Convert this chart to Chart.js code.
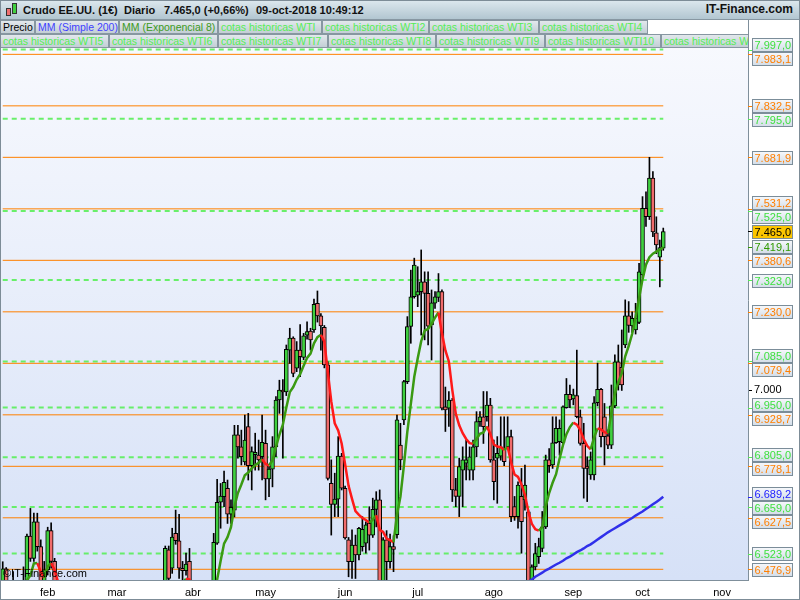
<!DOCTYPE html>
<html><head><meta charset="utf-8">
<script src="https://cdn.jsdelivr.net/npm/chart.js@4.4.1/dist/chart.umd.min.js"></script>
<style>
html,body{margin:0;padding:0;background:#fff;}
#wrap{position:relative;width:800px;height:600px;overflow:hidden;font-family:"Liberation Sans",Arial,sans-serif;}
#c{position:absolute;left:0;top:0;}
#titlebar{position:absolute;left:0;top:0;width:800px;height:20px;background:linear-gradient(#dde8ee,#b2c6d1);box-sizing:border-box;border-bottom:1px solid #8797a2;}
.tt{position:absolute;top:3px;font-size:11px;font-weight:bold;color:#111;white-space:nowrap;line-height:14px;}
.row{position:absolute;left:0;width:748px;height:14px;overflow:hidden;background:#fff;}
.lb{position:absolute;top:0;height:14px;box-sizing:border-box;border:1px solid #8797a1;background:linear-gradient(#e2e8ec,#c3ced5);font-size:10.5px;line-height:12px;padding-left:2px;white-space:nowrap;overflow:hidden;}
#frame{position:absolute;left:0;top:0;width:800px;height:600px;box-sizing:border-box;border:1px solid #7d8c97;pointer-events:none;}
.ic{position:absolute;box-sizing:border-box;border:1px solid #333;}
</style></head>
<body><div id="wrap">
<canvas id="c" width="800" height="600"></canvas>
<div id="titlebar">
  <div class="ic" style="left:6px;top:8px;width:5px;height:8px;background:#f07070;"></div>
  <div class="ic" style="left:12px;top:3px;width:5px;height:11px;background:#40d040;"></div>
  <div class="tt" style="left:23px;">Crudo EE.UU. (1€)</div>
  <div class="tt" style="left:124px;">Diario</div>
  <div class="tt" style="left:164px;">7.465,0 (+0,66%)</div>
  <div class="tt" style="left:256px;">09-oct-2018 10:49:12</div>
  <div class="tt" style="right:7px;font-size:12px;top:2px;">IT-Finance.com</div>
</div>
<div class="row" id="row1" style="top:20px;"></div>
<div class="row" id="row2" style="top:34px;"></div>
<div id="frame"></div>
</div>
<script>
// ---------- data ----------
const firstDay = '2018-01-15';
const lastSlot = '2018-11-12';
const monthNames = ['ene','feb','mar','abr','may','jun','jul','ago','sep','oct','nov','dic'];

const opens = [
6440,6478,6370,6400,6390,6360,6400,6440,6574,6509,
6616,6543,6430,6475,6590,6500,6400,6330,6180,6120,
5920,5930,5920,6060,6130,6170,6190,6180,6160,6270,
6350,6390,6300,6160,6090,6120,6250,6260,6110,6010,
6200,6130,6070,6090,6110,6230,6200,6340,6534,6480,
6582,6560,6480,6473,6500,6420,6270,6320,6330,6350,
6200,6345,6553,6673,6689,6714,6638,6650,6870,6835,
6791,6894,6780,6812,6811,6806,6845,6741,6770,6835,
6972,7001,6996,7118,7153,7065,7118,7097,7162,7174,
7177,7255,7218,7185,7075,6728,6667,6682,6808,6714,
6563,6499,6548,6519,6543,6553,6611,6577,6652,6680,
6440,6563,6499,6543,6578,6840,6914,7026,7187,7274,
7279,7289,7318,7284,7192,7255,7272,7289,6952,6948,
6972,6709,6690,6767,6787,6767,6767,6835,6909,6923,
6923,6957,6797,6802,6808,6831,6835,6865,6660,6631,
6690,6680,6645,6440,6484,6514,6538,6601,6797,6782,
6847,6850,6847,6950,6989,6975,6985,6923,6845,6777,
6753,6753,6964,7003,6923,6867,6840,6955,7084,7068,
7133,7218,7189,7177,7199,7338,7533,7508,7621,7461,
7390,7416];
const highs = [
6499,6482,6420,6470,6440,6420,6484,6580,6655,6641,
6641,6563,6500,6600,6613,6509,6420,6380,6220,6150,
6010,5980,6070,6150,6190,6220,6250,6210,6280,6360,
6420,6410,6320,6190,6140,6260,6300,6280,6130,6220,
6230,6170,6120,6150,6240,6270,6350,6545,6545,6597,
6650,6638,6500,6524,6538,6440,6340,6360,6380,6380,
6360,6582,6740,6728,6764,6738,6680,6898,6898,6884,
6928,6933,6835,6875,6855,6928,6884,6777,6865,6982,
7030,7032,7133,7182,7157,7143,7193,7167,7201,7182,
7267,7291,7225,7190,7084,6797,6758,6865,6816,6720,
6570,6592,6577,6600,6631,6616,6660,6685,6704,6709,
6570,6590,6580,6575,6928,6904,7030,7216,7352,7387,
7362,7411,7347,7347,7294,7289,7342,7294,7010,6997,
6977,6743,6802,6835,6855,6835,6855,6938,6938,6997,
6997,6977,6855,6865,6923,6923,6923,6884,6690,6733,
6772,6782,6650,6490,6553,6568,6646,6811,6830,6923,
6923,6914,6955,7035,7016,7004,7118,6943,6904,6806,
6820,6982,7080,7006,6962,6885,7016,7104,7133,7177,
7265,7260,7230,7255,7372,7567,7581,7682,7640,7508,
7440,7475];
const lows = [
6400,6340,6330,6360,6330,6320,6380,6420,6500,6500,
6530,6400,6390,6460,6480,6380,6260,6170,6100,5880,
5870,5810,5870,6020,6080,6130,6120,6080,6140,6250,
6300,6290,6150,6020,6000,6100,6200,6080,5990,6000,
6110,6040,6010,6060,6100,6140,6190,6330,6420,6465,
6550,6450,6440,6460,6420,6240,6250,6180,6300,6170,
6180,6330,6550,6597,6660,6611,6611,6630,6802,6782,
6782,6738,6709,6767,6767,6738,6680,6689,6718,6806,
6933,6802,6985,7079,7040,7055,7040,7090,7150,7118,
7170,7200,7118,7066,6738,6577,6631,6631,6709,6565,
6455,6450,6450,6504,6530,6524,6533,6570,6601,6420,
6400,6430,6480,6470,6568,6768,6900,7020,7138,7270,
7245,7162,7148,7133,7089,7240,7260,6943,6880,6895,
6675,6660,6631,6660,6738,6738,6738,6806,6895,6845,
6910,6790,6680,6670,6796,6780,6830,6616,6620,6597,
6524,6650,6400,6400,6475,6494,6528,6596,6760,6772,
6845,6811,6840,6948,6950,6958,6920,6840,6685,6675,
6740,6738,6955,6835,6782,6830,6830,6950,7001,7000,
7125,7170,7170,7165,7195,7330,7480,7500,7450,7400,
7303,7410];
const closes = [
6478,6370,6400,6390,6360,6400,6440,6574,6509,6616,
6543,6430,6475,6590,6500,6400,6330,6180,6120,5920,
5930,5920,6060,6130,6170,6190,6180,6160,6270,6350,
6390,6300,6160,6090,6120,6250,6260,6110,6010,6200,
6130,6070,6090,6110,6230,6200,6340,6538,6450,6571,
6561,6480,6473,6492,6440,6270,6320,6330,6350,6200,
6340,6556,6673,6691,6731,6638,6658,6870,6835,6806,
6855,6780,6821,6819,6797,6848,6741,6770,6835,6972,
7001,6996,7120,7153,7050,7118,7099,7160,7172,7148,
7252,7218,7189,7075,6743,6667,6682,6808,6714,6569,
6499,6548,6519,6597,6594,6607,6577,6652,6680,6440,
6563,6499,6543,6535,6914,6797,7026,7187,7274,7367,
7289,7318,7284,7188,7256,7274,7289,6948,6943,6972,
6709,6690,6777,6797,6797,6806,6835,6909,6923,6894,
6957,6797,6733,6816,6835,6792,6865,6631,6631,6723,
6616,6723,6430,6484,6523,6543,6601,6797,6780,6847,
6889,6889,6952,6989,6972,6987,6923,6845,6772,6772,
6797,6964,7003,6865,6865,6840,6955,7084,7016,7016,
7218,7190,7211,7212,7347,7533,7508,7621,7464,7426,
7418,7465];
const ema8 = [
6400,6405,6405,6403,6398,6399,6408,6445,6459,6494,
6495,6470,6452,6485,6495,6475,6440,6385,6327,6237,
6169,6114,6101,6107,6121,6136,6146,6149,6176,6215,
6254,6264,6241,6207,6187,6201,6214,6191,6151,6162,
6155,6136,6126,6122,6146,6158,6199,6274,6313,6370,
6412,6427,6437,6449,6447,6408,6388,6375,6369,6332,
6334,6383,6447,6501,6552,6571,6600,6660,6700,6725,
6752,6760,6772,6782,6788,6799,6785,6781,6795,6835,
6870,6900,6950,6995,7010,7032,7048,7072,7095,7108,
7138,7156,7163,7143,7054,6968,6904,6883,6845,6784,
6721,6683,6647,6636,6627,6621,6613,6622,6635,6592,
6586,6567,6562,6556,6636,6690,6780,6880,6960,7040,
7094,7144,7175,7180,7195,7213,7228,7167,7117,7085,
7001,6932,6898,6875,6858,6846,6844,6858,6873,6877,
6895,6873,6842,6836,6834,6826,6835,6790,6754,6747,
6725,6695,6645,6610,6594,6590,6600,6660,6700,6730,
6755,6800,6840,6872,6893,6906,6900,6884,6858,6838,
6828,6862,6889,6886,6878,6875,6935,6990,7025,7050,
7100,7130,7165,7215,7270,7325,7368,7390,7400,7406,
7412,7419.1];
const smaStart = '2018-07-30';
const sma200 = [
6340,6349,6357,6366,6374,6381,6390,6398,6405,6414,
6422,6430,6440,6447,6455,6461,6467,6474,6479,6485,
6491,6496,6502,6509,6514,6520,6527,6532,6538,6545,
6550,6557,6564,6571,6578,6585,6591,6597,6603,6609,
6615,6621,6627,6634,6640,6646,6653,6660,6667,6674,
6681,6689.2];
const greenLevels = [7997.0, 7795.0, 7525.0, 7323.0, 7085.0, 6950.0, 6805.0, 6659.0, 6523.0];
const orangeLevels = [7983.1, 7832.5, 7681.9, 7531.2, 7380.6, 7230.0, 7079.4, 6928.7, 6778.1, 6627.5, 6476.9];
const yTickValues = [7000];
const legendRow1 = [['Precio',0,35,'#000'],['MM (Simple 200)',35,84,'#3f3fff'],['MM (Exponencial 8)',119,99,'#3c9a1c'],
 ['cotas historicas WTI',218,104,'#55ee55'],['cotas historicas WTI2',322,107,'#55ee55'],['cotas historicas WTI3',429,110,'#55ee55'],['cotas historicas WTI4',539,109,'#55ee55']];
const legendRow2 = [['cotas historicas WTI5',0,109,'#55ee55'],['cotas historicas WTI6',109,109,'#55ee55'],['cotas historicas WTI7',218,110,'#55ee55'],
 ['cotas historicas WTI8',328,108,'#55ee55'],['cotas historicas WTI9',436,109,'#55ee55'],['cotas historicas WTI10',545,116,'#55ee55'],['cotas historicas WTI11',661,110,'#55ee55']];

// ---------- legend DOM ----------
function buildRow(id, items){
  const row = document.getElementById(id);
  items.forEach(([t,l,w,col])=>{
    const d=document.createElement('div'); d.className='lb';
    d.style.left=l+'px'; d.style.width=w+'px'; d.style.color=col; d.textContent=t; row.appendChild(d);
  });
}
buildRow('row1', legendRow1); buildRow('row2', legendRow2);

// ---------- helpers ----------
function weekdays(start, end){
  const out=[]; let d=new Date(start+'T00:00:00Z'); const e=new Date(end+'T00:00:00Z');
  while(d<=e){ const w=d.getUTCDay(); if(w!==0 && w!==6) out.push(d.toISOString().slice(0,10)); d=new Date(d.getTime()+86400000); }
  return out;
}
function fmt(v){ const s=v.toFixed(1).split('.'); return s[0].replace(/\B(?=(\d{3})+(?!\d))/g,'.')+','+s[1]; }
const FONT = '"Liberation Sans", Arial, sans-serif';

const labels = weekdays(firstDay, lastSlot);
const n = closes.length;
function isMonthStart(i){ return i>0 && labels[i].slice(5,7)!==labels[i-1].slice(5,7); }
const smaOffset = labels.indexOf(smaStart);
const smaData = labels.slice(0,n).map((d,i)=> i>=smaOffset ? sma200[i-smaOffset] : null);
const wickData = labels.slice(0,n).map((d,i)=>[lows[i], highs[i]]);
const bodyData = labels.slice(0,n).map((d,i)=>[opens[i], closes[i]]);
const bodyColors = labels.slice(0,n).map((d,i)=> closes[i]>=opens[i] ? '#3fd03f' : '#f06c6c');

const datasets = [];
greenLevels.forEach(v=>datasets.push({type:'line', data:[{x:labels[0],y:v},{x:labels[n-1],y:v}], borderColor:'rgba(90,238,90,0.9)', borderWidth:2, borderDash:[5,4], pointRadius:0, order:10}));
orangeLevels.forEach(v=>datasets.push({type:'line', data:[{x:labels[0],y:v},{x:labels[n-1],y:v}], borderColor:'#ff8000', borderWidth:1, pointRadius:0, order:9}));
datasets.push({type:'bar', data:wickData, backgroundColor:'#000', borderWidth:0, barThickness:1, grouped:false, order:6});
datasets.push({type:'bar', data:bodyData, backgroundColor:bodyColors, borderColor:'#000', borderWidth:1, borderSkipped:false, barThickness:4, grouped:false, order:5});
datasets.push({type:'line', data:smaData, borderColor:'#3030ea', borderWidth:2.5, pointRadius:0, spanGaps:false, order:2});
datasets.push({type:'line', data:ema8, borderWidth:2.5, pointRadius:0, order:1,
  segment:{borderColor: c => c.p1.parsed.y < c.p0.parsed.y ? '#ff1a1a' : '#3a9a12'}});

const bgPlugin = {
  id:'bg',
  beforeDraw(chart){
    const {ctx, chartArea:a} = chart;
    ctx.save(); ctx.fillStyle='#fff'; ctx.fillRect(0,0,chart.width,chart.height);
    const g=ctx.createLinearGradient(0,a.top,0,a.bottom); g.addColorStop(0,'#f9fafe'); g.addColorStop(1,'#d6e1f7');
    ctx.fillStyle=g; ctx.fillRect(a.left,a.top,a.right-a.left,a.bottom-a.top); ctx.restore();
  },
  afterDatasetsDraw(chart){
    const {ctx, chartArea:a} = chart;
    ctx.save(); ctx.fillStyle='#000'; ctx.font='11px '+FONT; ctx.textBaseline='middle'; ctx.textAlign='left';
    ctx.fillText('©IT-Finance.com', a.left+2, a.bottom-6); ctx.restore();
  }
};

const boxPlugin = {
  id:'boxes',
  afterDraw(chart){
    const ys = chart.scales.y, ctx = chart.ctx, a = chart.chartArea;
    const items = [];
    greenLevels.forEach(v=>items.push({v, col:'#3fe03f', tick:'#55ee55'}));
    orangeLevels.forEach(v=>items.push({v, col:'#ff7f00', tick:'#ff7f00'}));
    items.push({v:ema8[n-1], col:'#2f9a00', tick:'#2f9a00'});
    items.push({v:sma200[sma200.length-1], col:'#2020ff', tick:'#2020ff'});
    items.push({v:closes[n-1], col:'#000', tick:'#000', price:true});
    items.forEach(it=>it.y=ys.getPixelForValue(it.v));
    items.sort((p,q)=>p.y-q.y);
    const h=14;
    let groups = items.map(it=>({m:[it], top:it.y-h/2}));
    let changed=true;
    while(changed){
      changed=false;
      for(let k=0;k<groups.length-1;k++){
        const A=groups[k], B=groups[k+1];
        if(A.top+A.m.length*h > B.top+0.01){
          const m=A.m.concat(B.m); const mean=m.reduce((s,x)=>s+x.y,0)/m.length;
          groups.splice(k,2,{m, top:mean-m.length*h/2}); changed=true; break;
        }
      }
    }
    groups.forEach(G=>G.m.forEach((it,j)=>it.cy=G.top+j*h+h/2));
    ctx.save();
    ctx.lineWidth=1;
    items.forEach(it=>{ ctx.strokeStyle=it.tick; ctx.beginPath(); const yy=Math.round(it.y)+0.5; ctx.moveTo(a.right,yy); ctx.lineTo(a.right+5,yy); ctx.stroke(); });
    const order = items.filter(i=>!i.price).concat(items.filter(i=>i.price));
    ctx.font='11px '+FONT; ctx.textBaseline='middle'; ctx.textAlign='left';
    order.forEach(it=>{
      const top=Math.round(it.cy-6.5)+0.5, left=a.right+4.5, w=40, hh=13;
      if(it.price){ ctx.fillStyle='#fcc500'; }
      else { const g=ctx.createLinearGradient(0,top,0,top+hh); g.addColorStop(0,'#f6f8fb'); g.addColorStop(1,'#d3dde8'); ctx.fillStyle=g; }
      ctx.fillRect(left,top,w,hh);
      ctx.strokeStyle='#7b8d99'; ctx.strokeRect(left,top,w,hh);
      ctx.fillStyle=it.col; ctx.fillText(fmt(it.v), left+2, top+hh/2+0.5);
    });
    ctx.restore();
  }
};

new Chart(document.getElementById('c'), {
  data:{ labels, datasets },
  options:{
    responsive:false, animation:false, devicePixelRatio:1,
    layout:{ padding:{ top:20, left:1, right:0, bottom:0 } },
    plugins:{ legend:{display:false}, tooltip:{enabled:false}, title:{display:false} },
    scales:{
      x:{ type:'category', offset:true,
          grid:{ display:true, drawOnChartArea:false, drawTicks:true, tickLength:5, offset:false,
                 color: c => isMonthStart(c.index) ? '#606a70' : 'rgba(0,0,0,0)' },
          border:{ display:true, color:'#7f8f9b' },
          ticks:{ autoSkip:false, maxRotation:0, minRotation:0, padding:1, color:'#000', font:{size:11, family:FONT},
                  callback:function(v,i){ return isMonthStart(i) ? monthNames[parseInt(labels[i].slice(5,7),10)-1] : null; } },
          afterFit: s => { s.height = 20; } },
      y:{ type:'linear', position:'right', min:6445.6, max:8083.6,
          grid:{ display:true, drawOnChartArea:false, drawTicks:true, tickLength:4, color:'#000' },
          border:{ display:true, color:'#7f8f9b' },
          afterBuildTicks: s => { s.ticks = yTickValues.map(v=>({value:v})); },
          ticks:{ color:'#000', padding:2, font:{size:11, family:FONT}, callback: v => fmt(v).replace(',0','') },
          afterFit: s => { s.width = 52; } }
    }
  },
  plugins:[bgPlugin, boxPlugin]
});
</script>
</body></html>
